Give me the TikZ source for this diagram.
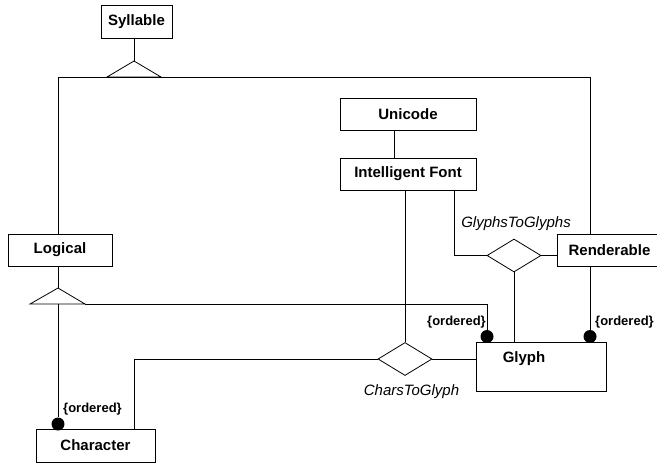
\documentclass[tikz,border=0pt]{standalone}
\usepackage{fontspec}
\setmainfont{Liberation Sans}
\usetikzlibrary{shapes.geometric}
\begin{document}
\begin{tikzpicture}[x=1pt,y=-1pt,line width=0.8pt,
    cls/.style={shape=rectangle,draw=black,font=\fontsize{15}{18}\selectfont\bfseries,inner sep=0pt},
    rel/.style={shape=diamond,draw=black,minimum width=54pt,minimum height=33pt,inner sep=0pt},
    ord/.style={font=\fontsize{13}{15}\selectfont\bfseries,inner sep=0pt},
    role/.style={font=\fontsize{15}{18}\selectfont\itshape,inner sep=0pt},
    ball/.style={shape=circle,fill=black,minimum size=13pt,inner sep=0pt}]
    \useasboundingbox (0,0) rectangle (657,464);
    \node[cls,minimum width=71pt,minimum height=33pt] (Syllable) at (136.5,22) {Syllable};
    \node[cls,minimum width=136pt,minimum height=32pt] (Unicode) at (408,114) {Unicode};
    \node[cls,minimum width=136pt,minimum height=32pt] (Font) at (408,174) {Intelligent Font};
    \node[cls,minimum width=104pt,minimum height=32pt] (Logical) at (60,250) {Logical};
    \node[cls,minimum width=105pt,minimum height=32pt] (Renderable) at (609.5,250) {Renderable};
    \node[cls,minimum width=130pt,minimum height=49pt,
        label={[cls,draw=none,xshift=-17pt,yshift=8pt]center:Glyph}] (Glyph) at (541,366.5) {};
    \node[cls,minimum width=119pt,minimum height=33pt] (Character) at (95.5,445.5) {Character};
    \node[rel] (CharsToGlyph) at (405,359) {};
    \node[rel] (GlyphsToGlyphs) at (514,255.5) {};
    \coordinate (SylTip) at (134,61);
    \coordinate (SylL) at (107,77);
    \coordinate (SylR) at (161,77);
    \coordinate (LogTip) at (58,288);
    \coordinate (LogL) at (30,304);
    \coordinate (LogR) at (85,304);
    \coordinate (LogBar) at (58,304);
    \coordinate (Left) at (58,77);
    \coordinate (Right) at (590,77);
    \coordinate (Step) at (487,304);
    \coordinate (CharUp) at (134,429);
    \coordinate (FontUp) at (394,158);
    \coordinate (FontDown) at (454,190);
    \node[ball] (DotChar) at (58,424) {};
    \node[ball] (DotLog) at (487,336.5) {};
    \node[ball] (DotRen) at (590,336.5) {};
    \draw (SylTip) -- (SylTip |- Syllable.south);
    \draw (SylL) -- (SylTip) -- (SylR) -- cycle;
    \draw (Left |- Logical.north) -- (Left) -- (Right) -- (Right |- Renderable.north);
    \draw (LogTip) -- (LogTip |- Logical.south);
    \draw (LogL) -- (LogTip) -- (LogR) -- cycle;
    \draw (LogBar) -- (DotChar);
    \draw (LogR) -- (Step) -- (DotLog);
    \draw (Right |- Renderable.south) -- (DotRen);
    \draw (FontUp) -- (FontUp |- Unicode.south);
    \draw (CharsToGlyph.north) -- (CharsToGlyph.north |- Font.south);
    \draw (CharUp) |- (CharsToGlyph.west);
    \draw (CharsToGlyph.east) -- (CharsToGlyph.east -| Glyph.west);
    \draw (FontDown) |- (GlyphsToGlyphs.west);
    \draw (GlyphsToGlyphs.east) -- (GlyphsToGlyphs.east -| Renderable.west);
    \draw (GlyphsToGlyphs.south) -- (GlyphsToGlyphs.south |- Glyph.north);
    \node[ord] (OrdChar) at (92.5,409) {\{ordered\}};
    \node[ord] (OrdLog) at (456.5,322) {\{ordered\}};
    \node[ord] (OrdRen) at (624.5,322) {\{ordered\}};
    \node[role] (G2G) at (516,224) {GlyphsToGlyphs};
    \node[role] (C2G) at (411.5,392) {CharsToGlyph};
\end{tikzpicture}
\end{document}
